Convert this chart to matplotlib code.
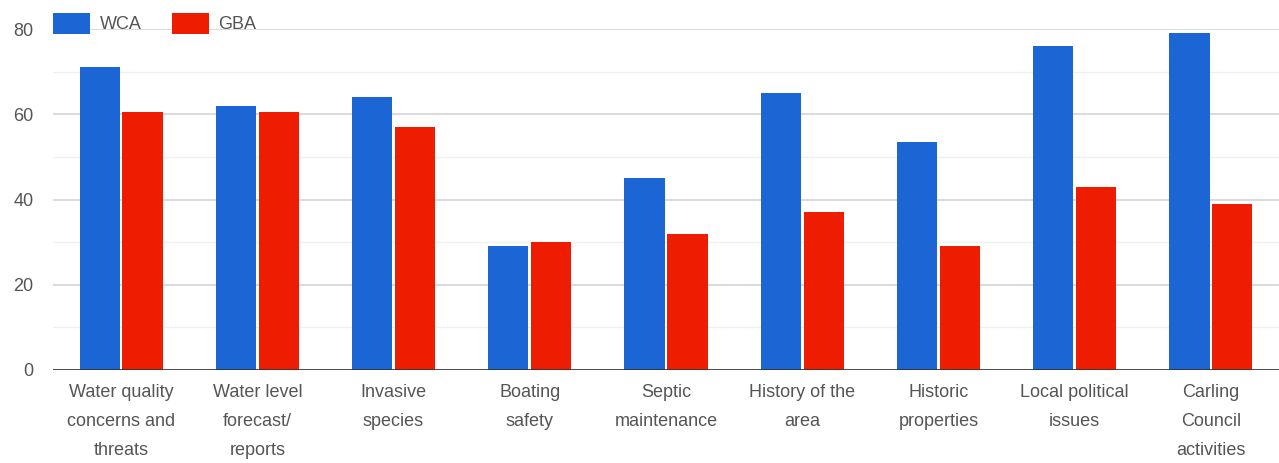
import matplotlib.pyplot as plt
import numpy as np

plt.rcParams['font.family'] = ['Liberation Sans', 'DejaVu Sans']

categories = ["Water quality\nconcerns and\nthreats", "Water level\nforecast/\nreports",
              "Invasive\nspecies", "Boating\nsafety", "Septic\nmaintenance",
              "History of the\narea", "Historic\nproperties", "Local political\nissues",
              "Carling\nCouncil\nactivities"]
wca = [71, 62, 64, 29, 45, 65, 53.5, 76, 79]
gba = [60.5, 60.5, 57, 30, 32, 37, 29, 43, 39]
series_names = ["WCA", "GBA"]
yticks = [0, 20, 40, 60, 80]

blue = '#1c65d4'
red = '#ee1c00'
txt = '#555555'

fig = plt.figure(figsize=(12.79, 4.63), dpi=100)
ax = fig.add_axes([53/1279, 1 - 370/463, 1 - 53/1279, (370 - 29)/463])

x = np.arange(len(categories))
w = 0.295
ax.bar(x - w/2 - 0.01, wca, w, color=blue, label=series_names[0], zorder=3)
ax.bar(x + w/2 + 0.01, gba, w, color=red, label=series_names[1], zorder=3)

ax.set_xlim(-0.5, len(categories) - 0.5)
ax.set_ylim(0, 80)
ax.set_yticks(yticks)
ax.set_yticks([10, 30, 50, 70], minor=True)
ax.grid(axis='y', which='major', color='#d4d4d4', linewidth=1.2, zorder=0)
ax.grid(axis='y', which='minor', color='#f0f0f0', linewidth=1.0, zorder=0)
ax.axhline(0, color='#333333', linewidth=1.2, zorder=4)

for s in ax.spines.values():
    s.set_visible(False)
ax.tick_params(axis='both', which='both', length=0, colors=txt, labelsize=13)
ax.tick_params(axis='y', pad=14)
ax.tick_params(axis='x', pad=10)
ax.set_xticks(x)
ax.set_xticklabels(categories, linespacing=1.92)

leg = ax.legend(loc='center left', bbox_to_anchor=(0.0, 1 + 5.5/341), ncol=2, frameon=False,
                fontsize=13, handlelength=2.05, handleheight=1.45, columnspacing=1.65,
                handletextpad=0.55, borderaxespad=0, borderpad=0)
for t in leg.get_texts():
    t.set_color(txt)

fig.savefig('out.png', dpi=100)
